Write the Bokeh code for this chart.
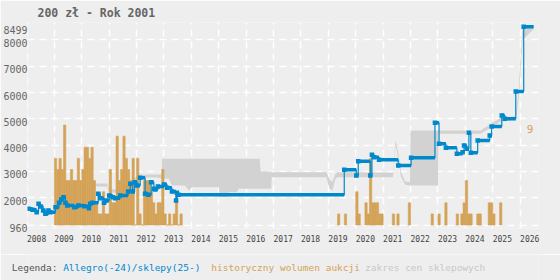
from bokeh.plotting import figure
from bokeh.layouts import column
from bokeh.models import Range1d, FixedTicker, CustomJSTickFormatter, Label, ColumnDataSource
from bokeh.core.properties import value
from bokeh.embed import file_html
from bokeh.resources import INLINE

TITLE = "200 zł - Rok 2001"
YEARS = list(range(2008, 2027))
PRICE_TICKS = [960, 2000, 3000, 4000, 5000, 6000, 7000, 8000]
PRICE_MAX = 8499

# Allegro / shop price (step series)
price_t = [2008.05, 2008.20, 2008.35, 2008.42, 2008.49, 2008.59, 2008.67, 2008.78, 2008.85,
           2009.04, 2009.17, 2009.25, 2009.33, 2009.40, 2009.47, 2009.73, 2009.87, 2010.09,
           2010.26, 2010.31, 2010.38, 2010.60, 2010.67, 2010.81, 2010.89, 2011.00, 2011.13,
           2011.22, 2011.40, 2011.69, 2011.77, 2011.86, 2011.93, 2012.02, 2012.13, 2012.31,
           2012.42, 2012.53, 2012.63, 2012.67, 2012.78, 2013.00, 2013.11, 2013.29, 2013.44,
           2013.47, 2013.53, 2019.58, 2020.02, 2020.09, 2020.53, 2020.59, 2020.67, 2020.85,
           2021.55, 2022.02, 2022.89, 2023.04, 2023.29, 2023.69, 2023.90, 2023.95, 2024.05,
           2024.13, 2024.20, 2024.45, 2024.89, 2024.96, 2025.33, 2025.44, 2025.84, 2026.13,
           2026.49]
price_v = [1582, 1544, 1453, 1772, 1670, 1518, 1392, 1518, 1453,
           1643, 1810, 1935, 2023, 1810, 1708, 1643, 1708, 1681,
           1605, 1772, 1810, 2152, 1985, 1810, 1897, 2087, 2023,
           1985, 2087, 2239, 2532, 2239, 2592, 2467, 2760, 2152,
           2114, 2592, 2342, 2315, 2429, 2505, 2380, 2239, 1897,
           2190, 2114, 3063, 2847, 3390, 2847, 3633, 3542, 3443,
           3227, 3519, 4849, 4051, 3899, 3671, 3732, 3986, 3861,
           4469, 3709, 4176, 4366, 4708, 5126, 5000, 6037, 8499,
           8499]

# shop price range band
band_t = [2010.38, 2010.93, 2011.00, 2011.40, 2012.09, 2012.75, 2012.92, 2012.93, 2013.18,
          2013.29, 2013.76, 2013.91, 2014.02, 2015.00, 2015.04, 2015.29, 2015.36, 2015.65,
          2015.73, 2016.49, 2016.53, 2016.92, 2016.93, 2018.93, 2019.04, 2019.15, 2019.25,
          2019.33, 2021.36, 2021.45, 2021.55, 2021.65, 2021.80, 2021.98, 2022.00, 2023.00,
          2023.02, 2024.56, 2025.29, 2025.84, 2025.95, 2026.09, 2026.49]
band_lo = [2429, 2429, 2200, 2200, 2771, 2771, 2722, 2722, 2722,
           2467, 2467, 2277, 2403, 2403, 2023, 2023, 2213, 2213,
           2342, 2342, 2342, 2342, 2782, 2782, 2350, 2277, 2700,
           2782, 2780, 4000, 3500, 2800, 2500, 2467, 2467, 2467,
           4431, 4431, 4900, 4950, 5800, 8000, 8400]
band_hi = [2543, 2543, 2315, 2315, 2885, 2885, 2885, 3481, 3481,
           3481, 3481, 3481, 3481, 3481, 3481, 3481, 3481, 3481,
           3481, 3481, 2999, 2999, 2972, 2972, 2700, 2600, 2900,
           2972, 2950, 4176, 3700, 3000, 2620, 2600, 4556, 4556,
           4556, 4556, 5050, 5100, 6200, 8499, 8499]

# historical auction volume: months since 2009-01 and counts
vol_month = list(range(0, 56)) + [124, 127, 132, 133, 136, 137, 138, 139, 140, 141, 142, 143,
                                  148, 150, 155, 165, 168, 171, 176, 178, 179, 180, 181, 182,
                                  185, 186, 190, 191, 192, 195]
vol_count = [6, 5, 6, 5, 9, 4, 4, 5, 4, 4, 6, 4, 5, 7, 7, 6, 7, 4, 2, 1, 1, 3, 1, 1, 5, 2, 2, 8,
             4, 5, 8, 6, 5, 4, 6, 0, 6, 1, 0, 4, 4, 4, 3, 2, 1, 2, 2, 5, 1, 0, 1, 0, 1, 3, 0, 1,
             1, 1, 3, 1, 2, 1, 6, 2, 2, 2, 1, 1,
             1, 1, 2, 1, 1, 2, 1, 1, 2, 4, 1, 1,
             1, 1, 2, 2, 1, 2]

LEGEND_HEAD = "Legenda:"
LEGEND_TEXT = ["Allegro(-24)/sklepy(25-)", "historyczny wolumen aukcji", "zakres cen sklepowych"]
LEGEND_COLOR = ["#0088cc", "#d4a357", "#c8c8c8"]

MONO = "DejaVu Sans Mono"
BLUE = "#0088cc"
ORANGE = "#d4a357"
BG = "#eeeeee"
LABEL_SHIFT = 114  # tick label sits ~3px below its grid line

p = figure(width=560, height=254, output_backend="svg", toolbar_location=None,
           x_range=Range1d(2008.018, 2026.67), y_range=Range1d(835, 8659),
           min_border_left=25, min_border_right=22, min_border_top=22, min_border_bottom=26,
           background_fill_color=BG, border_fill_color=BG, outline_line_color=None)
p.extra_y_ranges = {"vol": Range1d(-0.315, 18.24)}

p.title.text = TITLE
p.title.align = "left"
p.title.offset = 10
p.title.standoff = 5
p.title.text_font = MONO
p.title.text_font_size = "11.5px"
p.title.text_font_style = "bold"
p.title.text_color = "#666666"

# axes
p.xaxis.ticker = FixedTicker(ticks=[y + 0.35 for y in YEARS])
p.xaxis.formatter = CustomJSTickFormatter(code="return Math.floor(tick).toString();")
p.yaxis.ticker = FixedTicker(ticks=[v - LABEL_SHIFT for v in PRICE_TICKS + [PRICE_MAX]])
p.yaxis.formatter = CustomJSTickFormatter(code="return Math.round(tick + %d).toString();" % LABEL_SHIFT)
for ax in (p.xaxis[0], p.yaxis[0]):
    ax.axis_line_color = None
    ax.major_tick_line_color = None
    ax.minor_tick_line_color = None
    ax.major_tick_out = 0
    ax.major_tick_in = 0
    ax.minor_tick_out = 0
    ax.major_label_text_font = MONO
p.xaxis.major_label_text_font_size = "8px"
p.xaxis.major_label_text_color = "#444444"
p.xaxis.major_label_standoff = 6
p.yaxis.major_label_text_font_size = "10px"
p.yaxis.major_label_text_color = "#666666"
p.yaxis.major_label_standoff = 0

p.xgrid.ticker = FixedTicker(ticks=YEARS)
p.ygrid.ticker = FixedTicker(ticks=PRICE_TICKS)
for g in (p.xgrid[0], p.ygrid[0]):
    g.grid_line_color = "white"
    g.grid_line_dash = "7 5"
    g.grid_line_width = 1.5

# shop range band
p.varea(x=band_t, y1=band_lo, y2=band_hi, fill_color="#d2d2d2")

# volume bars
bar_x = [2009 + (m + 0.5) / 12 for m in vol_month]
p.vbar(x=bar_x, top=vol_count, bottom=0, width=1 / 12, y_range_name="vol",
       fill_color=ORANGE, line_color=ORANGE, line_width=0.6)

# price line
p.step(x=price_t, y=price_v, mode="after", line_color=BLUE, line_width=1.2)
p.segment(x0=price_t[:-1], y0=price_v[:-1], x1=price_t[1:], y1=price_v[:-1],
          line_color=BLUE, line_width=3.5, line_cap="butt")
p.scatter(x=price_t[:-1], y=price_v[:-1], marker="square", size=4.5,
          fill_color=BLUE, line_color=None)

# max volume marker
p.add_layout(Label(x=2026.24, y=max(vol_count) - 0.36, y_range_name="vol",
                   text=str(max(vol_count)), text_font=MONO, text_font_size="11px",
                   text_color=ORANGE, text_baseline="middle", text_align="left"))

# legend strip: its frame is aligned with the chart frame (canvas x 25..538)
CHAR_W = 5.72
HEAD_X = 9.3
leg_x = []
pos = HEAD_X + (len(LEGEND_HEAD) + 1) * CHAR_W
for i, txt in enumerate(LEGEND_TEXT):
    leg_x.append(pos)
    pos += (len(txt) + (2 if i == 0 else 1)) * CHAR_W

leg = figure(width=560, height=26, output_backend="svg", toolbar_location=None,
             x_range=Range1d(25, 538), y_range=Range1d(0, 26),
             x_axis_location=None, min_border_left=25, min_border_right=22,
             min_border_top=0, min_border_bottom=0,
             background_fill_color=BG, border_fill_color=BG, outline_line_color=None)
leg.grid.visible = False
ya = leg.yaxis[0]
ya.ticker = FixedTicker(ticks=[13])
ya.major_label_overrides = {13: LEGEND_HEAD}
ya.axis_line_color = None
ya.major_tick_line_color = None
ya.minor_tick_line_color = None
ya.major_tick_out = 0
ya.major_tick_in = 0
ya.minor_tick_out = 0
ya.major_label_text_font = MONO
ya.major_label_text_font_size = "9.5px"
ya.major_label_text_color = "#555555"
ya.major_label_standoff = -round(HEAD_X + len(LEGEND_HEAD) * CHAR_W - 25)

src = ColumnDataSource(dict(x=leg_x, y=[13] * len(leg_x), text=LEGEND_TEXT, color=LEGEND_COLOR))
leg.text(x="x", y="y", text="text", text_color="color", source=src,
         text_font=value(MONO), text_font_size="9.5px", text_baseline="middle", text_align="left")

layout = column(p, leg, spacing=0)
open("out.html", "w").write(file_html(layout, INLINE))
